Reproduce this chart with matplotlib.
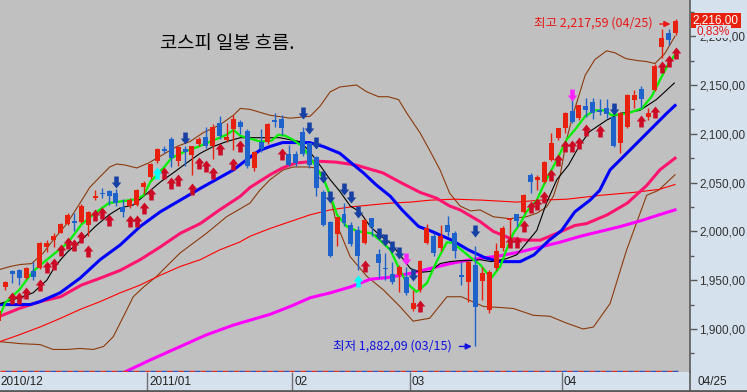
import numpy as np
import matplotlib
matplotlib.use("Agg")
import matplotlib.pyplot as plt
from matplotlib.path import Path
from matplotlib.transforms import blended_transform_factory, offset_copy

# trading days per month on screen: 2010/12 .. 2011/04 (up to 04/25)
month_labels = ["2010/12", "2011/01", "02", "03", "04"]
month_days = [22, 21, 17, 22, 17]
last_date = "04/25"

opens = [1908, 1943, 1959.4, 1960.5, 1952, 1959.4, 1962, 1984, 1991, 1998.7,
         2007.6, 2010.6, 2010, 2006.5, 2034, 2039.6, 2041.8, 2039.6, 2024.7, 2026,
         2027, 2045, 2055.4, 2072, 2084.6, 2094.4, 2072, 2084.6, 2078, 2089.5,
         2096.5, 2088, 2111.4, 2093.6, 2104.6, 2112.5, 2103, 2065.3, 2092, 2091.3,
         2114, 2115, 2079.3, 2079.3, 2101.8, 2090.3, 2076, 2040.7, 2010, 1997.3,
         2017.8, 2006.6, 2001.4, 1987.8, 2013.4, 1976.8, 1962, 1956.4, 1955.3, 1953,
         1920, 1939.9, 1987.8, 1995.3, 1982.7, 2006.6, 1998.7, 1955.3, 1948.5, 1965.6,
         1949, 1919.5, 1962.2, 1982.7, 2011.7, 2017.8, 2020.3, 2057.8, 2052.7, 2051,
         2073.2, 2095.4, 2105.6, 2123.7, 2116, 2128.5, 2133, 2124.4, 2126, 2117.5,
         2090.3, 2107.3, 2134.6, 2145.6, 2117, 2145, 2189.3, 2203, 2203.7]
highs = [1920, 1949, 1960, 1961, 1964, 1969, 1989, 1991, 1998.7, 2008.5,
         2018.5, 2018.5, 2028, 2021, 2042.4, 2044, 2042.5, 2043, 2033, 2034,
         2043, 2051.6, 2070, 2085, 2087, 2096.5, 2087, 2087, 2088, 2096.5,
         2107, 2110, 2118, 2111, 2119, 2114, 2104.6, 2082, 2104.6, 2111,
         2121, 2119, 2088.5, 2082, 2107, 2091, 2077, 2042, 2011, 2015,
         2028.8, 2010, 2005, 2013, 2014, 1981.6, 1977.6, 1969, 1966, 1964,
         1940, 1971, 2007.6, 1998, 2006.6, 2015.8, 2000, 1969, 1970, 1985,
         1963, 1960, 1987.8, 2006, 2014, 2018, 2038, 2059.6, 2057.8, 2072,
         2100.5, 2106, 2122, 2140, 2130, 2136.4, 2136.4, 2135.6, 2135.6, 2118,
         2122, 2141, 2145, 2149, 2126.4, 2172, 2207.6, 2207, 2217.59]
lows = [1905, 1940, 1947, 1945, 1951, 1950, 1961, 1979, 1984, 1998,
        2007, 2000, 2009, 1995, 2032, 2034, 2027, 2026, 2015, 2024,
        2026, 2038, 2054, 2070, 2080, 2066, 2067, 2067, 2058, 2087,
        2085, 2074, 2095, 2092, 2083, 2100, 2064.6, 2062, 2081.7, 2090,
        2107.4, 2098.8, 2067, 2067, 2077, 2065, 2036, 2005, 1974, 1985,
        2005, 1985, 1960, 1987, 1995, 1952, 1950, 1946, 1938, 1935,
        1918, 1938, 1987, 1975, 1980, 1995, 1972.4, 1945, 1928, 1882.09,
        1930, 1916, 1960, 1980, 1991, 2004, 2019, 2039, 2042.5, 2050,
        2072, 2094, 2101, 2111, 2114, 2117.6, 2115, 2119, 2116, 2086,
        2080.6, 2106, 2126.4, 2126.4, 2114, 2144, 2178, 2191, 2201]
closes = [1918, 1948.5, 1956.4, 1952, 1962, 1953, 1988.4, 1988, 1995.6, 2007.6,
          2016.8, 2009, 2026, 2020, 2036.6, 2038, 2036.3, 2028.8, 2020.2, 2032,
          2042.4, 2050, 2068.8, 2084.4, 2082.6, 2075, 2086, 2081, 2087.5, 2094.4,
          2087.5, 2107.4, 2097.7, 2096.5, 2115, 2107.4, 2067.3, 2081.8, 2084, 2110,
          2112.5, 2106.3, 2068, 2069.8, 2079.3, 2068, 2044, 2006.6, 1974.8, 2014.4,
          2008.3, 1987, 1975, 2011.7, 2004.2, 1967.3, 1961, 1948.5, 1964, 1937.2,
          1926.4, 1969.7, 2003.2, 1977.6, 1995.3, 1999.7, 1980.2, 1953.6, 1969, 1922.3,
          1957, 1958.7, 1979.9, 2003.2, 2013.4, 2011, 2037.3, 2051, 2056, 2071.5,
          2091, 2105.6, 2121, 2112.5, 2129.5, 2124.4, 2121, 2122.7, 2120, 2087.5,
          2121, 2139.8, 2139.8, 2135.6, 2121, 2169.5, 2198.5, 2196, 2216]

# moving averages / bands at these candle positions
ma5_x = [0.2, 1, 3, 5, 7, 10, 12, 14, 16, 18, 20, 21, 22, 24, 25, 27, 29, 31, 33, 34,
         35, 36.4, 38, 39.5, 40.5, 41.5, 42.6, 44, 46, 47.2, 48, 49, 50.4, 52, 54, 55.2, 56.7, 58.1, 59.1, 60.5,
         62, 63.4, 64.9, 65.8, 67, 68.7, 69.7, 71.3, 72.6, 73.5, 74.5, 75.5, 76.4, 77.9, 78.8, 79.8, 80.8, 82.2, 83.4, 84.9,
         86.3, 87.8, 88.7, 91.1, 93.1, 94.5, 96, 96.9, 97.9]
ma5 = [1914, 1927, 1940, 1959, 1971, 1988, 2007, 2019, 2029, 2031, 2033, 2037, 2051, 2066, 2075, 2082, 2087, 2093, 2099, 2104,
       2098, 2095, 2092, 2093, 2099, 2098, 2094, 2087, 2066, 2051, 2037, 2017, 2005, 2000, 1998, 1991, 1981, 1960, 1947, 1938,
       1947, 1969, 1989, 1988, 1981, 1971, 1966, 1952, 1964, 1981, 1998, 2008, 2020, 2032, 2046, 2060, 2073, 2094, 2104, 2118,
       2124, 2124, 2119, 2121, 2126, 2138, 2159, 2171, 2181]
ma10_x = [0.2, 3, 5, 7, 8, 9, 10, 12, 13, 14, 16, 17.6, 19.5, 21.5, 23.5, 25.3, 27.2, 29.2, 31.1, 33,
          35, 37.8, 40.7, 43.6, 44.9, 46.3, 48, 49.4, 50.9, 52.3, 53.8, 55.2, 56.7, 58.1, 59.6, 61, 62.5, 63.9, 65.3, 66.8,
          68.3, 69.7, 71.3, 73.5, 75, 77.9, 79.3, 80.8, 82.5, 84, 85.5, 88, 90, 92.8, 95.2, 97.8]
ma10 = [1926, 1932, 1937, 1950, 1962, 1971, 1979, 1991, 1998, 2005, 2017, 2024, 2027, 2039, 2051, 2060, 2070, 2080, 2087, 2092,
        2096, 2096, 2096, 2092, 2083, 2070, 2053, 2041, 2026, 2020, 2005, 1996, 1988, 1976, 1962, 1958, 1959, 1967, 1969, 1970,
        1970, 1971, 1969, 1972, 1976, 2001, 2029, 2053, 2068, 2087, 2102, 2114, 2121, 2124, 2135, 2152]
ma20_x = [0.2, 4.6, 6, 8.9, 11.8, 14.7, 17.6, 20.5, 23.4, 26.3, 29.2, 34, 36.4, 37.8, 39.3, 41.1, 45, 47, 49.4, 50.9,
          52.8, 54.6, 56.7, 58.4, 60.8, 62.7, 65.6, 68, 70.4, 72.6, 75.5, 77.5, 79.7, 81.5, 83.4, 85.6, 87, 88.5, 91.9, 94.3,
          96.7, 97.9]
ma20 = [1925, 1925, 1928, 1937, 1952, 1971, 1986, 2005, 2020, 2032, 2044, 2063, 2076, 2083, 2087, 2091, 2091, 2087, 2080, 2071,
        2060, 2048, 2036, 2022, 2005, 2000, 1991, 1981, 1973, 1969, 1969, 1976, 1991, 2001, 2020, 2032, 2042, 2063, 2087, 2104,
        2121, 2129]
ma60_x = [0.2, 3, 6, 9, 12, 14.7, 17.6, 20.5, 23.4, 26.3, 29.2, 32, 35, 36.4, 39.3, 41.1, 43, 45.9, 48.8, 51.7,
          55.6, 58.5, 61, 63.4, 65.3, 66.8, 69.7, 71.6, 74, 76.4, 78.4, 80.8, 83.4, 85.1, 88.1, 91, 93.8, 95.7, 97.9]
ma60 = [1913, 1921, 1928, 1933, 1945, 1952, 1960, 1971, 1984, 1998, 2008, 2022, 2036, 2045, 2058, 2065, 2070, 2072, 2071, 2068,
        2060, 2049, 2040, 2034, 2026, 2022, 2010, 2000, 1993, 1991, 1991, 1998, 2006, 2008, 2017, 2029, 2047, 2063, 2075]
ma120_x = [0.2, 3, 6, 9, 11.8, 14.7, 17.6, 20.5, 23.4, 26.3, 29.2, 32, 34.9, 36.4, 39.3, 42.2, 45.1, 48, 50.9, 53.8,
           56.7, 59.6, 62.5, 66, 70, 75, 78.4, 82.3, 87.2, 92, 95.6, 97.9]
ma120 = [1887, 1894, 1902, 1911, 1920, 1928, 1937, 1945, 1955, 1964, 1971, 1981, 1989, 1995, 2003, 2010, 2017, 2022, 2025, 2027,
         2029, 2030, 2032, 2033, 2032, 2030, 2032, 2033, 2037, 2040, 2043, 2048]
ma240_x = [17, 18.3, 21.9, 26.3, 30.1, 34, 36.4, 39.3, 42.2, 45.1, 48, 50.9, 53.8, 56.7, 59.6, 62.5, 65.4, 68.3, 72.6, 75.5,
           78.4, 81.3, 84.2, 87.1, 90, 93, 95.6, 97.9]
ma240 = [1850, 1856, 1868, 1882, 1894, 1904, 1909, 1915, 1923, 1932, 1937, 1943, 1951, 1953, 1957, 1962, 1967, 1971, 1975, 1979,
         1984, 1989, 1995, 2000, 2005, 2011, 2017, 2022]
bb_up_x = [0.2, 1.7, 3.1, 4.8, 6.5, 7.9, 9.9, 11.8, 13.2, 14.7, 16.1, 17.1, 18.3, 20, 21.7, 23.4, 25.8, 27.7, 29.6, 32,
           34, 35, 36.4, 39.3, 42.2, 45.1, 46.5, 48, 49.4, 51.8, 53.3, 55, 56.4, 57.9, 59.1, 61, 62.4, 63.9, 65.3, 66.8,
           68.3, 69.7, 71.6, 74, 76.4, 78, 79.3, 80.3, 81.3, 82.2, 83.2, 84.9, 86.3, 88, 89.2, 90.8, 92.5, 93.8, 95, 96.4,
           97.9]
bb_up = [1961, 1964, 1966, 1967, 1978, 1991, 2008, 2029, 2045, 2056, 2066, 2069, 2068, 2065, 2070, 2077, 2087, 2092, 2101, 2109,
         2119, 2126, 2125, 2119, 2116, 2118, 2128, 2143, 2148, 2150, 2143, 2138, 2138, 2135, 2121, 2101, 2083, 2063, 2039, 2026,
         2021, 2022, 2015, 2013, 2015, 2019, 2025, 2036, 2058, 2094, 2121, 2160, 2176, 2185, 2183, 2177, 2175, 2174, 2172, 2182,
         2200]
bb_dn_x = [0.2, 3.1, 6, 7.9, 9.9, 11.8, 13.7, 15.2, 16.6, 18.1, 19.5, 21, 22.9, 24.3, 26.3, 28.2, 30.1, 33, 36.4, 37.8,
           39.3, 41.2, 42.7, 44.6, 46.1, 47, 48, 48.9, 50.9, 53.3, 55.7, 58.1, 60, 62.4, 64.9, 67, 70.2, 72.6, 74.5, 77.4,
           79.8, 82.2, 84.6, 86.1, 88.5, 90.9, 93.8, 95.5, 97.9]
bb_dn = [1887, 1885, 1884, 1879, 1879, 1880, 1879, 1882, 1892, 1913, 1933, 1943, 1954, 1964, 1978, 1988, 1998, 2015, 2029, 2042,
         2053, 2063, 2066, 2066, 2065, 2056, 2037, 2008, 1974, 1954, 1940, 1923, 1908, 1911, 1933, 1933, 1923, 1922, 1921, 1914,
         1913, 1906, 1900, 1902, 1926, 1981, 2037, 2042, 2058]

# signal arrows: candle index and tip value
buy_x = [2, 3, 4, 6, 7, 8, 9, 10, 11, 12, 13, 14, 15, 16, 19, 20, 21, 22, 24, 25, 26, 28, 29, 30, 31, 32, 34, 35,
         41, 53, 61, 74, 75, 76, 77, 78, 79, 80, 81, 82, 83, 84, 85, 87, 93, 95, 96, 97, 98]
buy_y = [1938, 1938, 1943, 1951, 1970, 1973, 1987, 1994, 1992, 2000, 1986, 2023, 2025, 2018, 2017, 2017, 2030, 2044,
         2066, 2056, 2059, 2049, 2076, 2073, 2066, 2090, 2075, 2093, 2085, 1971, 1930, 1995, 1995, 2011, 2031, 2034,
         2041, 2064, 2079, 2094, 2093, 2097, 2110, 2109, 2119, 2128, 2174, 2181, 2189]
sell_x = [17, 27, 44, 45, 46, 47, 48, 50, 51, 52, 55, 56, 57, 58, 60, 69, 89]
sell_y = [2045, 2090, 2115, 2100, 2085, 2050, 2029, 2037, 2029, 2014, 1991, 1985, 1978, 1972, 1949, 1994, 2119]
pink_sell_x = [59, 83]
pink_sell_y = [1966, 2134]
cyan_buy_x = [23, 52]
cyan_buy_y = [2066, 1955]

hi_text = "최고 2,217,59 (04/25)"
lo_text = "최저 1,882,09 (03/15)"

panel = "#d5e1ed"
kr = ["Noto Sans CJK KR", "DejaVu Sans"]
num = ["Liberation Sans", "DejaVu Sans"]
nsize = 8.5

fig = plt.figure(figsize=(7.47, 3.92), dpi=100, facecolor=panel)
ax = fig.add_axes([0, 20 / 392, 690 / 747, 372 / 392], facecolor="#c0c0c0")
ax.set_xlim(0.22, 100.07)
ax.set_ylim(1855.9, 2237.1)

idx = np.arange(len(closes))
o = np.array(opens); c = np.array(closes)
up = c >= o
cols = np.where(up, "#e8200e", "#1e63cc")

# indicator lines
ax.plot(bb_up_x, bb_up, color="#8c3a0c", lw=0.8, zorder=2)
ax.plot(bb_dn_x, bb_dn, color="#8c3a0c", lw=0.8, zorder=2)
ax.plot(ma120_x, ma120, color="#ff0000", lw=0.8, zorder=2)
ax.plot(ma240_x, ma240, color="#ff00ff", lw=2.2, zorder=2)
ax.plot(ma60_x, ma60, color="#ff1470", lw=2.2, zorder=2)
ax.plot(ma20_x, ma20, color="#0000ff", lw=2.2, zorder=2)
ax.plot(ma10_x, ma10, color="black", lw=0.8, zorder=2)
ax.plot(ma5_x, ma5, color="#00f000", lw=1.6, zorder=2)

# candles
ax.vlines(idx, lows, highs, colors=cols, lw=1, zorder=3)
ax.bar(idx, np.maximum(np.abs(c - o), 1.0), bottom=np.minimum(o, c), width=0.72,
       color=cols, linewidth=0, zorder=3)

# arrows
uv = [(0, .5), (.4, 0), (.19, 0), (.19, -.5), (-.19, -.5), (-.19, 0), (-.4, 0), (0, .5)]
codes = [Path.MOVETO] + [Path.LINETO] * 6 + [Path.CLOSEPOLY]
up_arrow = Path(uv, codes)
dn_arrow = Path([(x, -y) for x, y in uv], codes)
half = 6.0  # half arrow height in index points
asz = 74
ax.scatter(buy_x, np.array(buy_y) - half, marker=up_arrow, s=asz, color="#cc0a26", lw=0, zorder=4)
ax.scatter(sell_x, np.array(sell_y) + half, marker=dn_arrow, s=asz, color="#1640a4", lw=0, zorder=4)
ax.scatter(pink_sell_x, np.array(pink_sell_y) + half, marker=dn_arrow, s=asz, color="#ff22ff", lw=0, zorder=4)
ax.scatter(cyan_buy_x, np.array(cyan_buy_y) - half, marker=up_arrow, s=asz, color="#00ffff", lw=0, zorder=4)

# dashed line at the bottom
ax.plot([0, 0.982], [0.004, 0.004], transform=ax.transAxes, color="#e03020", lw=1, dashes=(4, 4), zorder=2)
ax.plot([0, 0.982], [0.004, 0.004], transform=ax.transAxes, color="#3050c0", lw=1, dashes=(0, 4, 4, 0), zorder=2)

# title and annotations
ax.text(160 / 690, 1 - 43 / 372, "코스피 일봉 흐름.", transform=ax.transAxes, fontsize=13.5,
        family=kr, va="center", ha="left", color="black")
hi_i = int(np.argmax(highs)); lo_i = int(np.argmin(lows))
ax.text(94.7, 2214, hi_text, color="#e81818", fontsize=9, family=kr, ha="right", va="center")
ax.annotate("", xy=(hi_i - 0.35, 2212.5), xytext=(95.3, 2212.5),
            arrowprops=dict(arrowstyle="-|>", color="#e81818", lw=1, mutation_scale=9))
ax.text(65.6, 1883, lo_text, color="#1010e0", fontsize=9, family=kr, ha="right", va="center")
ax.annotate("", xy=(lo_i - 0.1, lows[lo_i]), xytext=(66.3, lows[lo_i]),
            arrowprops=dict(arrowstyle="-|>", color="#1010e0", lw=1, mutation_scale=9))

# right price axis
for s in ["left", "top", "bottom"]:
    ax.spines[s].set_visible(False)
ax.spines["right"].set_color("#5a5a5a")
ax.spines["right"].set_linewidth(1.2)
ax.yaxis.tick_right()
yt = [1900, 1950, 2000, 2050, 2100, 2150, 2200]
ax.set_yticks(yt)
ax.set_yticklabels(["{:,}".format(v) + ",00" for v in yt], family=num)
ax.set_yticks(np.arange(1875, 2237, 50), minor=True)
ax.tick_params(axis="y", which="major", length=5, width=1, color="#5a5a5a", pad=1.5,
               labelsize=nsize, labelcolor="#333333")
ax.tick_params(axis="y", which="minor", length=3, width=1, color="#5a5a5a")

bt = blended_transform_factory(ax.transAxes, ax.transData)
ax.text(1.004, closes[-1], "2,216,00", transform=bt, color="white", fontsize=nsize, family=num,
        va="center", ha="left", clip_on=False,
        bbox=dict(boxstyle="square,pad=0.15", fc="#e8200e", ec="none"))
ax.text(1.010, 2204.5, "0,83%", transform=bt, color="#e81818", fontsize=nsize, family=num,
        va="center", ha="left", clip_on=False, zorder=5,
        bbox=dict(boxstyle="square,pad=0.05", fc=panel, ec="none"))

# date band
bounds = list(np.cumsum(month_days)[:-1] - 0.5)
ax.set_xticks(bounds)
ax.tick_params(axis="x", direction="out", length=13.5, width=1, color="#707070", labelbottom=False)
xb = blended_transform_factory(ax.transData, ax.transAxes)
lab_tr = offset_copy(xb, fig=fig, x=2, y=-4, units="dots")
for b, lbl in zip(bounds, month_labels[1:]):
    ax.text(b, 0, lbl, transform=lab_tr, fontsize=nsize, family=num, va="top", ha="left", color="#222222")
ax.text(0.22, 0, month_labels[0], transform=offset_copy(xb, fig=fig, x=0, y=-4, units="dots"),
        fontsize=nsize, family=num, va="top", ha="left", color="#222222")
ax.text(1.0, 0, last_date, transform=offset_copy(ax.transAxes, fig=fig, x=7, y=-4, units="dots"),
        fontsize=nsize, family=num, va="top", ha="left", color="#222222")
ax.plot([1, 1], [0, -19 / 372], transform=ax.transAxes, color="#5a5a5a", lw=1.2, clip_on=False)
ax.plot([0, 747 / 690], [-19 / 372, -19 / 372], transform=ax.transAxes, color="#5a5a5a", lw=2, clip_on=False)

fig.savefig("out.png", dpi=100, facecolor=panel)
